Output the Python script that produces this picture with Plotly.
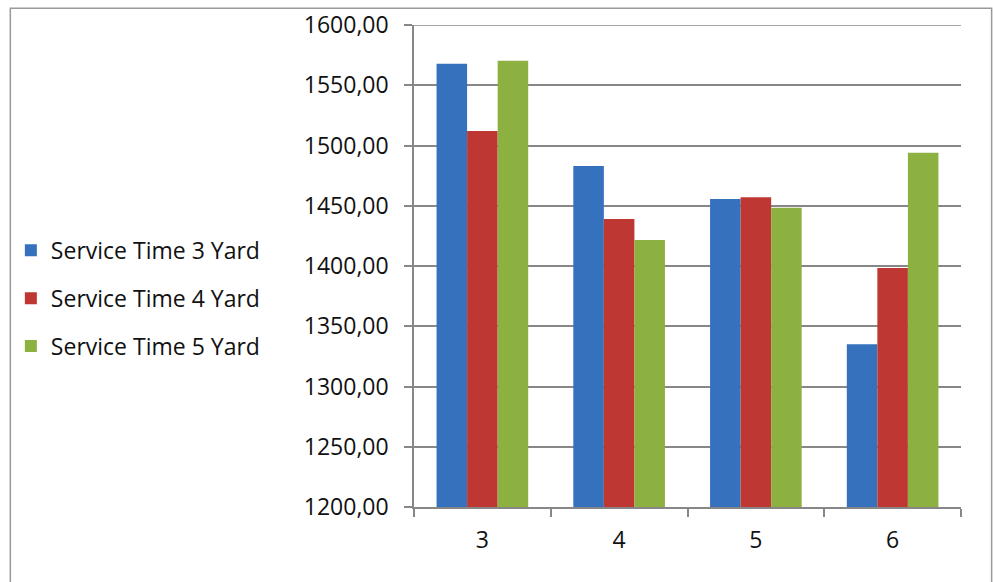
import plotly.graph_objects as go

# Categories on the x axis (yard count) and service time series
categories = ["3", "4", "5", "6"]
series_names = ["Service Time 3 Yard", "Service Time 4 Yard", "Service Time 5 Yard"]
service_3_yard = [1567.8, 1483.0, 1455.5, 1335.0]
service_4_yard = [1512.1, 1439.0, 1457.0, 1398.3]
service_5_yard = [1570.3, 1421.5, 1448.3, 1494.0]
y_ticks = [1200, 1250, 1300, 1350, 1400, 1450, 1500, 1550, 1600]

colors = ["#3571BC", "#BE3733", "#8DB140"]
values = [service_3_yard, service_4_yard, service_5_yard]

FONT = "Open Sans"
GRID = "#878787"

fig = go.Figure()
for i, (name, vals) in enumerate(zip(series_names, values)):
    fig.add_trace(go.Bar(
        x=categories,
        y=vals,
        name=name,
        legendgroup=name,
        marker=dict(color=colors[i], line=dict(width=0)),
    ))

fig.update_layout(
    width=993,
    height=582,
    margin=dict(l=414, r=32, t=25, b=75, autoexpand=False),
    paper_bgcolor="white",
    plot_bgcolor="white",
    barmode="group",
    bargap=0.33,
    bargroupgap=0,
    separators=", ",
    font=dict(family=FONT, size=23, color="#111111"),
    showlegend=True,
    legend=dict(
        x=-0.737,
        xanchor="left",
        y=0.433,
        yanchor="middle",
        font=dict(family=FONT, size=23, color="#111111"),
        tracegroupgap=15,
        bgcolor="rgba(0,0,0,0)",
        traceorder="grouped",
    ),
    xaxis=dict(
        type="category",
        automargin=False,
        showgrid=False,
        showline=True,
        linecolor=GRID,
        linewidth=1.5,
        ticks="outside",
        tickson="boundaries",
        ticklen=8,
        tickcolor=GRID,
        tickwidth=1.5,
        ticklabelstandoff=12,
        tickfont=dict(family=FONT, size=23, color="#111111"),
    ),
    yaxis=dict(
        range=[1200, 1600],
        automargin=False,
        tickvals=y_ticks,
        tickformat=".2f",
        showgrid=True,
        gridcolor=GRID,
        gridwidth=1.5,
        showline=True,
        linecolor=GRID,
        linewidth=1.5,
        ticks="outside",
        ticklen=8,
        tickcolor=GRID,
        tickwidth=1.5,
        ticklabelstandoff=11,
        zeroline=False,
        tickfont=dict(family=FONT, size=23, color="#111111"),
    ),
    shapes=[
        dict(
            type="rect", xref="paper", yref="paper",
            x0=-0.738, x1=1.056, y0=-0.2, y1=1.035,
            line=dict(color="#9A9A9A", width=1.5),
            fillcolor="rgba(0,0,0,0)",
            layer="below",
        ),
        # top gridline at the range edge
        dict(
            type="line", xref="paper", yref="y",
            x0=0, x1=1, y0=1600, y1=1600,
            line=dict(color=GRID, width=1.5),
        ),
    ],
)

fig.write_html("out.html")
